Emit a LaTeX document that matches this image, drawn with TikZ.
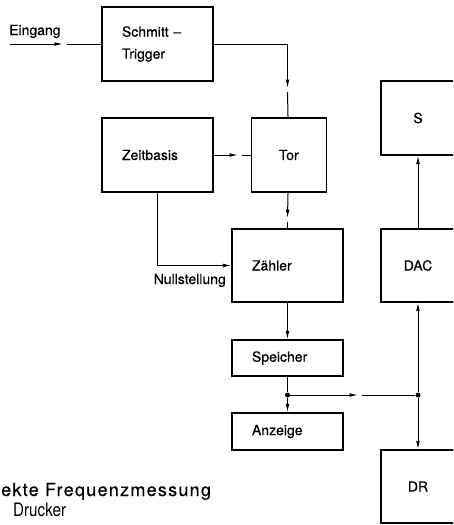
\documentclass[tikz,border=0pt]{standalone}
\usepackage{fontspec}
\setmainfont[FakeBold=0.4]{TeX Gyre Heros}
\newfontfamily\captionfont[LetterSpace=7, FakeBold=0.4]{TeX Gyre Heros}
\newfontfamily\narrowfont[FakeStretch=0.82]{TeX Gyre Heros}
\usetikzlibrary{arrows.meta, positioning}

\begin{document}
\begin{tikzpicture}[x=1pt, y=-1pt]
		\tikzset{node distance=37pt and 37pt,
			box/.style={rectangle, draw, line width=1.3pt, minimum height=74pt,
			font=\fontsize{14}{16}\selectfont},
			lbox/.style={box, text width=71pt, align=left, inner xsep=20pt},
			rbox/.style={box, minimum width=74pt},
			label/.style={inner sep=0pt, font=\fontsize{14}{16}\selectfont},
			pfeil/.style={-{Latex[length=8.5pt,width=3.8pt]}, line width=1pt},
			linie/.style={line width=1pt},
			punkt/.style={circle, fill, inner sep=0pt, minimum size=5pt},
		}
		\useasboundingbox (0,0) rectangle (453,525);
		\clip (0,0) rectangle (453,525);

		\node[lbox](schmitt) at (157.5,44){Schmitt –\\[6pt]Trigger};
		\node[lbox](zeit) at (157.5,155){Zeitbasis};
		\node[box, minimum width=75pt, right=of zeit](tor){Tor};
		\node[lbox, minimum height=73pt](zaehler) at (287.5,265.5){Zähler};
		\node[lbox, minimum height=36pt](speicher) at (287.5,358){Speicher};
		\node[lbox, minimum height=37pt](anzeige) at (287.5,431.5){Anzeige};

		\node[rbox](s) at (418,118){S};
		\node[rbox, minimum height=73pt](dac) at (418,265.5){DAC};
		\node[rbox, minimum height=73pt](dr) at (418,486.5){DR};

		\node[label, anchor=base west](eingang) at (9,35){Eingang};
		\node[label, anchor=base east](null) at (226,284){Nullstellung};
		\node[inner sep=0pt, anchor=base west, font=\captionfont\fontsize{18}{20}\selectfont]
			(titel) at (1,496){ekte Frequenzmessung};
		\node[inner sep=0pt, anchor=base west, font=\narrowfont\fontsize{18.5}{20}\selectfont]
			(drucker) at (13,516){Drucker};

		\coordinate(ein) at (10,44);
		\coordinate(ein1) at (63,44);
		\coordinate(ein2) at (67,44);
		\coordinate(knick) at (287.5,44);
		\coordinate(st1) at (287.5,88);
		\coordinate(st2) at (287.5,92);
		\coordinate(zt1) at (238,155);
		\coordinate(zt2) at (242,155);
		\coordinate(tz1) at (287.5,218);
		\coordinate(tz2) at (287.5,222);
		\node[punkt](p1) at (287.5,395){};
		\node[punkt](p2) at (418,395){};
		\coordinate(h1) at (358,395);
		\coordinate(h2) at (362,395);

		\draw[pfeil](ein) -- (ein1);
		\draw[linie](ein2) -- (schmitt);
		\draw[pfeil](schmitt) -- (knick) -- (st1);
		\draw[linie](st2) -- (tor);
		\draw[pfeil](zeit) -- (zt1);
		\draw[linie](zt2) -- (tor);
		\draw[pfeil](tor) -- (tz1);
		\draw[linie](tz2) -- (zaehler);
		\draw[pfeil](zeit.south) |- (zaehler.west);

		\draw[pfeil](zaehler) -- (speicher);
		\draw[linie](speicher) -- (p1);
		\draw[pfeil](p1) -- (anzeige);
		\draw[pfeil](p1) -- (h1);
		\draw[linie](h2) -- (p2);
		\draw[pfeil](p2) -- (dac);
		\draw[pfeil](p2) -- (dr);
		\draw[pfeil](dac) -- (s);

	\end{tikzpicture}
\end{document}
